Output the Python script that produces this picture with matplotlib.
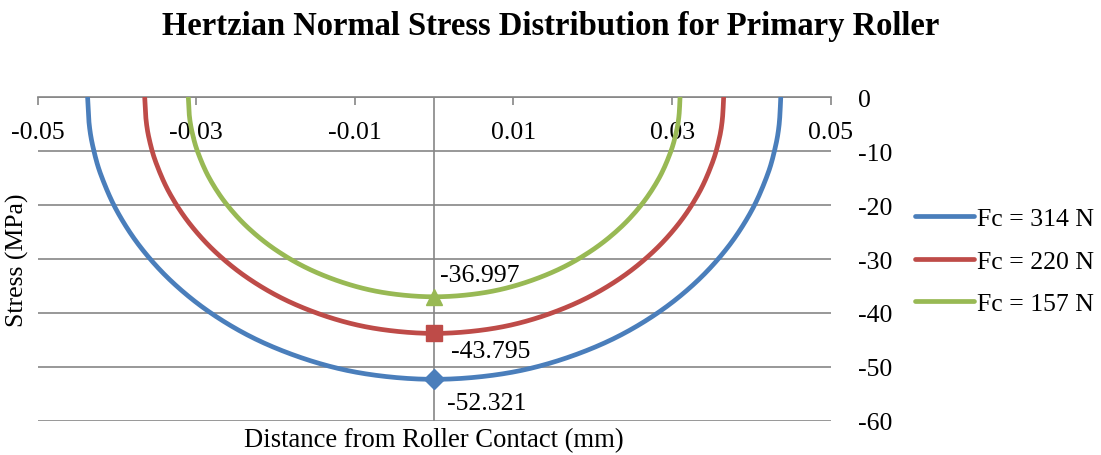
import numpy as np
import matplotlib
matplotlib.use("Agg")
import matplotlib.pyplot as plt

plt.rcParams['font.family'] = ['Liberation Serif', 'DejaVu Serif']
plt.rcParams['axes.unicode_minus'] = False

# ---- data ----
labels = ["Fc = 314 N", "Fc = 220 N", "Fc = 157 N"]
colors = ["#4A7EBB", "#BE4B48", "#98B954"]

x_314 = [-0.0437, -0.0435, -0.0430, -0.0420, -0.0400, -0.0370, -0.0330, -0.0280, -0.0220, -0.0150, -0.0080, 0.0,
         0.0080, 0.0150, 0.0220, 0.0280, 0.0330, 0.0370, 0.0400, 0.0420, 0.0430, 0.0435, 0.0437]
y_314 = [0.0, -5.00, -9.33, -14.45, -21.07, -27.84, -34.30, -40.17, -45.21, -49.14, -51.44, -52.321,
         -51.44, -49.14, -45.21, -40.17, -34.30, -27.84, -21.07, -14.45, -9.33, -5.00, 0.0]

x_220 = [-0.0365, -0.03633, -0.03592, -0.03508, -0.03341, -0.03090, -0.02756, -0.02339, -0.01838, -0.01253, -0.00668, 0.0,
         0.00668, 0.01253, 0.01838, 0.02339, 0.02756, 0.03090, 0.03341, 0.03508, 0.03592, 0.03633, 0.0365]
y_220 = [0.0, -4.18, -7.81, -12.10, -17.64, -23.30, -28.71, -33.63, -37.84, -41.13, -43.05, -43.795,
         -43.05, -41.13, -37.84, -33.63, -28.71, -23.30, -17.64, -12.10, -7.81, -4.18, 0.0]

x_157 = [-0.0310, -0.03086, -0.03050, -0.02979, -0.02838, -0.02625, -0.02341, -0.01986, -0.01561, -0.01064, -0.00568, 0.0,
         0.00568, 0.01064, 0.01561, 0.01986, 0.02341, 0.02625, 0.02838, 0.02979, 0.03050, 0.03086, 0.0310]
y_157 = [0.0, -3.53, -6.60, -10.22, -14.90, -19.69, -24.26, -28.41, -31.97, -34.75, -36.37, -36.997,
         -36.37, -34.75, -31.97, -28.41, -24.26, -19.69, -14.90, -10.22, -6.60, -3.53, 0.0]

peak_x = [0.0, 0.0, 0.0]
peak_y = [-52.321, -43.795, -36.997]
peak_text = ["-52.321", "-43.795", "-36.997"]
markers = ["D", "s", "^"]

x_ticks = [-0.05, -0.03, -0.01, 0.01, 0.03, 0.05]
x_ticklabels = ["-0.05", "-0.03", "-0.01", "0.01", "0.03", "0.05"]
y_ticks = [0, -10, -20, -30, -40, -50, -60]
y_ticklabels = ["0", "-10", "-20", "-30", "-40", "-50", "-60"]


def smooth(xs, ys, n=12):
    """Catmull-Rom rendering of a smoothed line through the given points."""
    P = np.column_stack([xs, ys]).astype(float)
    P = np.vstack([P[0], P, P[-1]])
    out = []
    for i in range(1, len(P) - 2):
        p0, p1, p2, p3 = P[i - 1], P[i], P[i + 1], P[i + 2]
        t = np.linspace(0, 1, n, endpoint=False)[:, None]
        seg = 0.5 * ((2 * p1) + (-p0 + p2) * t + (2 * p0 - 5 * p1 + 4 * p2 - p3) * t ** 2
                     + (-p0 + 3 * p1 - 3 * p2 + p3) * t ** 3)
        out.append(seg)
    out.append(P[-2][None, :])
    out = np.vstack(out)
    return out[:, 0], out[:, 1]


fig = plt.figure(figsize=(11.01, 4.56), dpi=100)
ax = fig.add_axes([0.0342, 0.0752, 0.7203, 0.7088])

series = [(x_314, y_314), (x_220, y_220), (x_157, y_157)]
handles = []
for (xs, ys), c, lab in zip(series, colors, labels):
    sx, sy = smooth(xs, ys)
    h, = ax.plot(sx, sy, color=c, lw=3.4, solid_capstyle='round', label=lab, zorder=3)
    handles.append(h)

msizes = [10, 12, 11.5]
for px, py, c, m, ms in zip(peak_x, peak_y, colors, markers, msizes):
    ax.plot([px], [py], marker=m, color=c, ms=ms, linestyle='none', zorder=4)

offsets = [(13, -24), (17, -18), (6, 22)]
for px, py, t, off in zip(peak_x, peak_y, peak_text, offsets):
    ax.annotate(t, (px, py), xytext=off, textcoords='offset pixels',
                ha='left', va='center', fontsize=18.5, zorder=5)

ax.set_xlim(-0.05, 0.05)
ax.set_ylim(-60, 0)

grid_c = "#868686"
ax.set_yticks(y_ticks)
ax.set_yticklabels(y_ticklabels)
ax.yaxis.tick_right()
ax.tick_params(axis='y', length=0, pad=20, labelsize=18.5)
ax.yaxis.grid(True, color=grid_c, lw=1.2)
ax.set_axisbelow(True)

ax.spines['bottom'].set_position(('data', 0))
ax.spines['bottom'].set_color(grid_c)
ax.spines['bottom'].set_linewidth(1.2)
for s in ['top', 'left', 'right']:
    ax.spines[s].set_visible(False)
ax.set_xticks(x_ticks)
ax.set_xticklabels(x_ticklabels)
ax.tick_params(axis='x', direction='out', length=6, width=1.2, color=grid_c, pad=11, labelsize=18.5)
ax.axvline(0, color=grid_c, lw=1.2, zorder=1)

fig.text(0.394, 0.034, "Distance from Roller Contact (mm)", ha='center', va='center', fontsize=19.2)
fig.text(0.016, 0.43, "Stress (MPa)", ha='center', va='center', rotation=90, fontsize=18.5)
fig.text(0.5, 0.942, "Hertzian Normal Stress Distribution for Primary Roller",
         ha='center', va='center', fontsize=23.5, fontweight='bold')

fig.legend(handles=handles, labels=labels, loc='center left', bbox_to_anchor=(0.822, 0.425),
           frameon=False, fontsize=18.5, handlelength=2.3, handletextpad=0.1, labelspacing=0.75,
           borderaxespad=0)

fig.savefig("out.png", dpi=100)
